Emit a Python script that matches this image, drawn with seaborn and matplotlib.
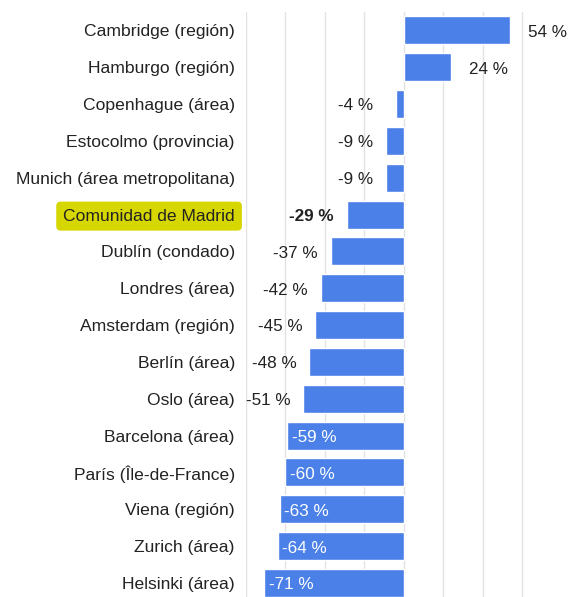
import pandas as pd
import matplotlib.pyplot as plt
import seaborn as sns

# zonas y variación (%)
zonas = ['Cambridge (región)', 'Hamburgo (región)', 'Copenhague (área)',
         'Estocolmo (provincia)', 'Munich (área metropolitana)',
         'Comunidad de Madrid', 'Dublín (condado)', 'Londres (área)',
         'Amsterdam (región)', 'Berlín (área)', 'Oslo (área)',
         'Barcelona (área)', 'París (Île-de-France)', 'Viena (región)',
         'Zurich (área)', 'Helsinki (área)']
variacion = [54, 24, -4, -9, -9, -29, -37, -42, -45, -48, -51,
             -59, -60, -63, -64, -71]
destacada = 'Comunidad de Madrid'
ticks_x = [-80, -60, -40, -20, 0, 20, 40, 60]

df = pd.DataFrame({'zona': zonas, 'var': variacion})

sns.set_style('white')
plt.rcParams['font.family'] = ['Liberation Sans', 'DejaVu Sans']

fig = plt.figure(figsize=(5.85, 5.97), dpi=100)
ax = fig.add_axes([246 / 585, 0.0, 1 - 246 / 585, 1 - 12 / 597])

sns.barplot(data=df, x='var', y='zona', orient='h', color='#4a80e8',
            saturation=1, width=0.76, ax=ax)

ax.set_xlim(-80, 92)
ax.set_ylim(15.38, -0.5)
ax.set_xticks(ticks_x)
ax.xaxis.grid(True, color='#e2e2e2', linewidth=1)
ax.set_axisbelow(True)
ax.tick_params(axis='x', length=0, labelbottom=False)
ax.tick_params(axis='y', length=0, pad=8, labelsize=12.6, labelcolor='#222222')
ax.set_xlabel('')
ax.set_ylabel('')
for s in ax.spines.values():
    s.set_visible(False)

for lab in ax.get_yticklabels():
    if lab.get_text() == destacada:
        lab.set_bbox(dict(boxstyle='round,pad=0.4,rounding_size=0.25',
                          facecolor='#d6d600', edgecolor='none'))

# etiquetas de valor
fs = 12.3
for i, v in enumerate(variacion):
    txt = f'{v} %'
    peso = 'bold' if zonas[i] == destacada else 'normal'
    if v > 0:
        ax.text(v + 9, i + 0.05, txt, ha='left', va='center', fontsize=fs,
                color='#222222')
    elif v > -55:
        ax.text(min(v, -9) - 6.5, i + 0.05, txt, ha='right', va='center',
                fontsize=fs, color='#222222', fontweight=peso)
    else:
        ax.text(v + 2.5, i + 0.05, txt, ha='left', va='center',
                fontsize=fs, color='white')

plt.savefig('out.png', dpi=100)
